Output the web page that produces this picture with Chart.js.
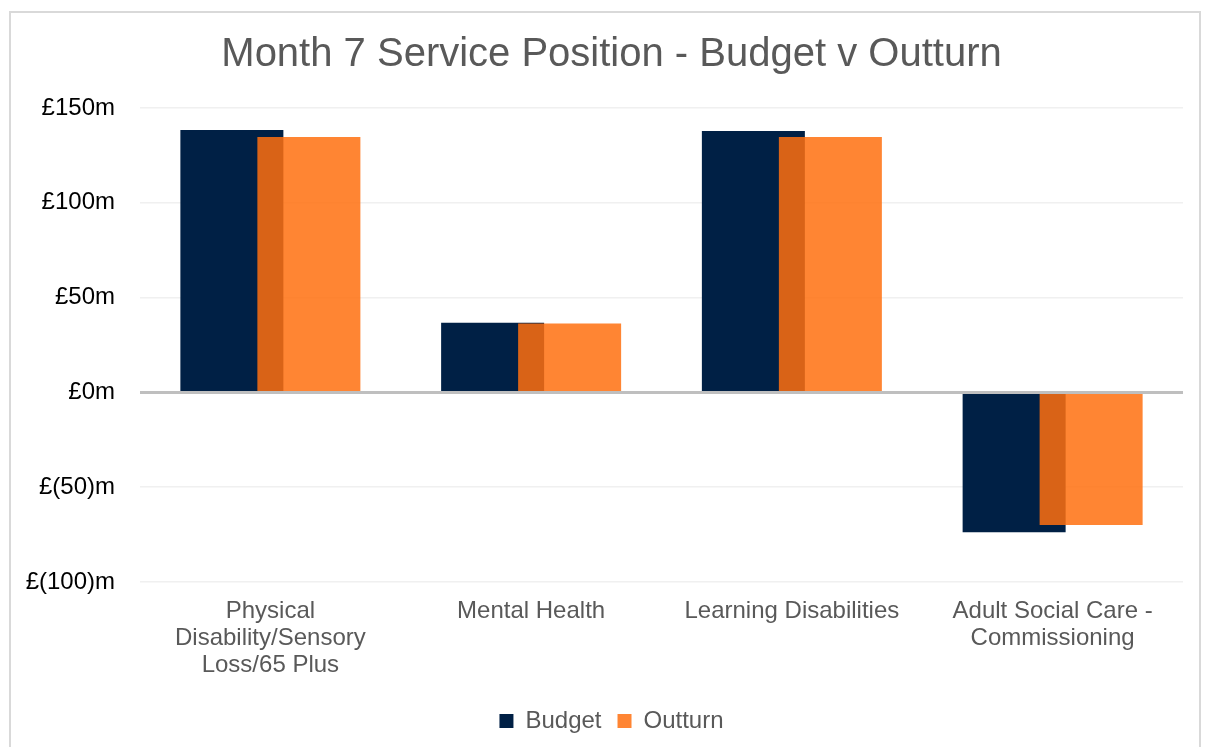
<!DOCTYPE html>
<html>
<head>
<meta charset="utf-8">
<script src="https://cdn.jsdelivr.net/npm/chart.js@4/dist/chart.umd.min.js"></script>
<style>
  body { margin: 0; background: #fff; }
  #wrap { width: 1208px; height: 747px; position: relative; }
</style>
</head>
<body>
<div id="wrap"><canvas id="myChart" width="1208" height="747"></canvas></div>
<script>
// values, in £m
const categories = [
    ["Physical", "Disability/Sensory", "Loss/65 Plus"],
    "Mental Health",
    "Learning Disabilities",
    ["Adult Social Care -", "Commissioning"]
];
const budget = [138.4, 36.8, 137.9, -73.7];
const outturn = [134.7, 36.3, 134.7, -70.0];
const yTicks = [-100, -50, 0, 50, 100, 150];

const FONT = "'Liberation Sans', Arial, sans-serif";

// light frame round the chart, like the Excel chart border
const frame = {
    id: 'frame',
    beforeDraw(chart) {
        const c = chart.ctx;
        c.save();
        c.strokeStyle = '#d9d9d9';
        c.lineWidth = 2;
        c.strokeRect(10, 12, 1190, 760);
        c.restore();
    }
};

// draw the outturn bars last so they sit over the budget bars
const outturnOnTop = {
    id: 'outturnOnTop',
    beforeDatasetDraw(chart, args) {
        if (args.index === 1) return false;
    },
    afterDatasetsDraw(chart) {
        chart.getDatasetMeta(1).controller.draw();
    }
};

const ctx = document.getElementById("myChart").getContext("2d");
new Chart(ctx, {
    type: "bar",
    data: {
        labels: categories,
        datasets: [{
            label: "Budget",
            data: budget,
            backgroundColor: "#002045",
            categoryPercentage: 0.5906,
            barPercentage: 1.3377
        }, {
            label: "Outturn",
            data: outturn,
            backgroundColor: "rgba(255,112,15,0.85)",
            categoryPercentage: 0.5906,
            barPercentage: 1.3377
        }]
    },
    options: {
        responsive: false,
        animation: false,
        layout: {
            padding: {left: 40, right: 25, top: 12, bottom: 4}
        },
        plugins: {
            title: {
                display: true,
                text: "Month 7 Service Position - Budget v Outturn",
                color: "#595959",
                font: {family: FONT, size: 40, weight: 'normal'},
                padding: {top: 19, bottom: 29}
            },
            legend: {
                position: 'bottom',
                labels: {
                    color: "#595959",
                    font: {family: FONT, size: 24},
                    boxWidth: 14,
                    boxHeight: 14,
                    padding: 16,
                    generateLabels(chart) {
                        return chart.data.datasets.map((ds, i) => ({
                            text: ds.label,
                            fillStyle: i === 1 ? "#ff8533" : ds.backgroundColor,
                            strokeStyle: 'transparent',
                            lineWidth: 0,
                            fontColor: "#595959",
                            datasetIndex: i
                        }));
                    }
                }
            },
            tooltip: {enabled: false}
        },
        scales: {
            x: {
                afterFit(scale) { scale.height += 6; },
                grid: {display: false},
                border: {display: false},
                ticks: {
                    color: "#595959",
                    font: {family: FONT, size: 24, lineHeight: 1.125},
                    padding: 8,
                    maxRotation: 0,
                    autoSkip: false
                }
            },
            y: {
                min: -100,
                max: 150,
                afterFit(scale) {
                    scale.width = 100;
                    // let the long labels run past the axis box instead of being cut
                    scale._computeLabelArea = () => undefined;
                },
                afterBuildTicks(scale) {
                    scale.ticks = yTicks.map(v => ({value: v}));
                },
                border: {display: false},
                grid: {
                    drawTicks: false,
                    color: c => c.tick && c.tick.value === 0 ? "#bfbfbf" : "#f0f0f0",
                    lineWidth: c => c.tick && c.tick.value === 0 ? 3 : 1.5
                },
                ticks: {
                    color: "#000",
                    font: {family: FONT, size: 24},
                    padding: 25,
                    callback: v => v < 0 ? "£(" + (-v) + ")m" : "£" + v + "m"
                }
            }
        }
    },
    plugins: [frame, outturnOnTop]
});
</script>
</body>
</html>
